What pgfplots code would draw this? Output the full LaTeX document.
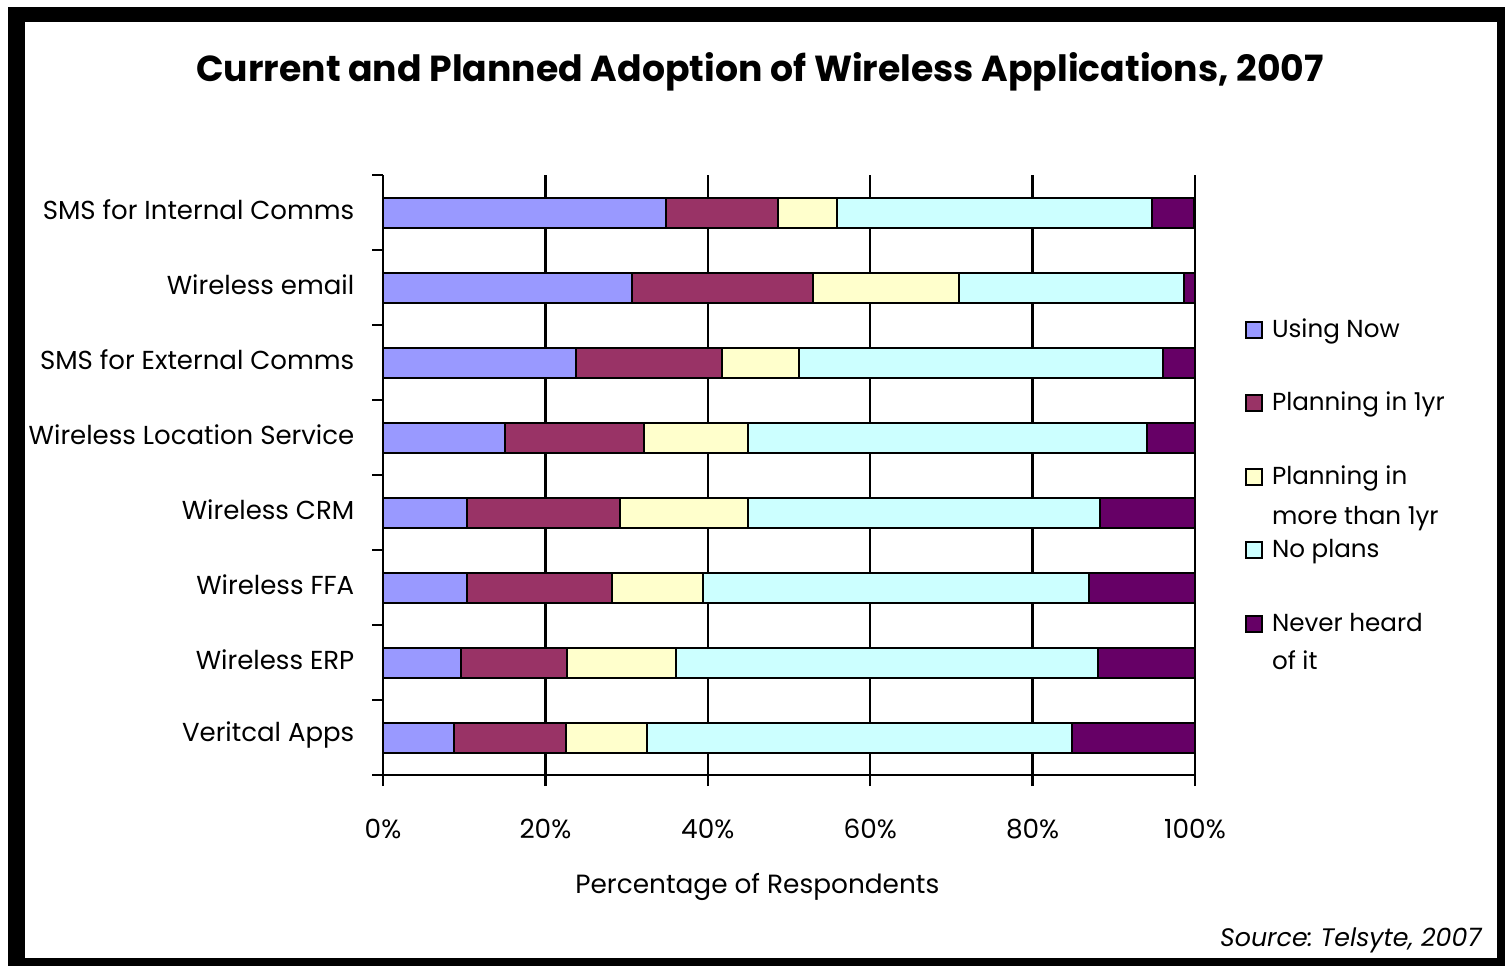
\documentclass[border=0pt]{standalone}
\usepackage{fontspec}
\setmainfont{Poppins}
\usepackage{pgfplots}
\pgfplotsset{compat=1.18}
\definecolor{cUsing}{HTML}{9999FF}
\definecolor{cPlan1}{HTML}{993366}
\definecolor{cPlan2}{HTML}{FFFFCC}
\definecolor{cNo}{HTML}{CCFFFF}
\definecolor{cNever}{HTML}{660066}
\frenchspacing
\begin{document}
\begin{tikzpicture}
\fill[white] (0,0) rectangle (150.5mm,96.6mm);
\fill[black] (0.8mm,0) rectangle (150.5mm,95.9mm);
\fill[white] (2.5mm,0.8mm) rectangle (149.7mm,94.4mm);
\node[font=\fontsize{10.3}{12}\selectfont\bfseries] at (76mm,89.4mm) {Current and Planned Adoption of Wireless Applications, 2007};
\node[font=\fontsize{7.2}{8}\selectfont\itshape, anchor=east, inner sep=0pt] at (148.2mm,2.6mm) {Source: Telsyte, 2007};
\begin{axis}[
  at={(38.3mm,19.1mm)}, anchor=south west,
  scale only axis, width=81.2mm, height=60mm,
  xbar stacked, bar width=3mm,
  legend image code/.code={\draw[#1, draw=black, line width=0.2mm] (0mm,-0.8mm) rectangle (1.6mm,0.8mm);},
  xmin=0, xmax=100, ymin=-0.5, ymax=7.5, y dir=reverse,
  axis x line*=bottom, axis y line*=left,
  axis line style={line width=0.25mm, black},
  tick align=outside, major tick length=1.1mm,
  tick style={line width=0.25mm, black},
  xtick={0,20,40,60,80,100},
  xticklabels={0\%,20\%,40\%,60\%,80\%,100\%},
  xticklabel style={anchor=center, yshift=-4.3mm, font=\fontsize{7.5}{9}\selectfont},
  xmajorgrids, major grid style={line width=0.25mm, black},
  ytick={-0.5,0.5,1.5,2.5,3.5,4.5,5.5,6.5,7.5},
  yticklabels={},
  extra y ticks={0,1,2,3,4,5,6,7},
  extra y tick labels={SMS for Internal Comms,Wireless email,SMS for External Comms,Wireless Location Service,Wireless CRM,Wireless FFA,Wireless ERP,Veritcal Apps},
  extra y tick style={tick style={draw=none}, yticklabel style={anchor=east, inner sep=0pt, xshift=-1.7mm, yshift=0.3mm, font=\fontsize{7.4}{9}\selectfont}},
  xlabel={Percentage of Respondents},
  xlabel style={at={(axis description cs:0.461,0)}, anchor=center, yshift=-11.2mm, font=\fontsize{7.5}{9}\selectfont},
  every axis plot/.append style={draw=black, line width=0.2mm},
  legend cell align=left,
  legend style={draw=none, fill=none, inner sep=0pt, outer sep=0pt,
    at={(axis description cs:1.0616,0.763)}, anchor=north west,
    row sep=4.85mm,
    font=\fontsize{7}{8}\selectfont,
    nodes={inner sep=0pt, text height=2mm, text depth=0.5mm},
    /tikz/every odd column/.append style={column sep=0.9mm}},
]
\addplot[fill=cUsing] coordinates {(34.8,0) (30.7,1) (23.8,2) (15.0,3) (10.4,4) (10.4,5) (9.6,6) (8.7,7)};
\addplot[fill=cPlan1] coordinates {(13.8,0) (22.2,1) (18.0,2) (17.2,3) (18.8,4) (17.8,5) (13.1,6) (13.8,7)};
\addplot[fill=cPlan2] coordinates {(7.3,0) (18.0,1) (9.4,2) (12.7,3) (15.7,4) (11.2,5) (13.4,6) (10.0,7)};
\addplot[fill=cNo] coordinates {(38.8,0) (27.8,1) (44.8,2) (49.2,3) (43.4,4) (47.6,5) (51.9,6) (52.4,7)};
\addplot[fill=cNever] coordinates {(5.2,0) (1.3,1) (4.0,2) (5.9,3) (11.7,4) (13.0,5) (12.0,6) (15.1,7)};
\addlegendentry{Using Now}
\addlegendentry{Planning in 1yr}
\addlegendentry{\parbox[t]{3cm}{\setlength{\baselineskip}{4mm}Planning in\\more than 1yr}}
\addlegendentry{No plans}
\addlegendentry{\parbox[t]{3cm}{\setlength{\baselineskip}{3.8mm}Never heard\\of it}}
\end{axis}
\pgfresetboundingbox
\path (0,0) rectangle (150.5mm,96.6mm);
\end{tikzpicture}
\end{document}
